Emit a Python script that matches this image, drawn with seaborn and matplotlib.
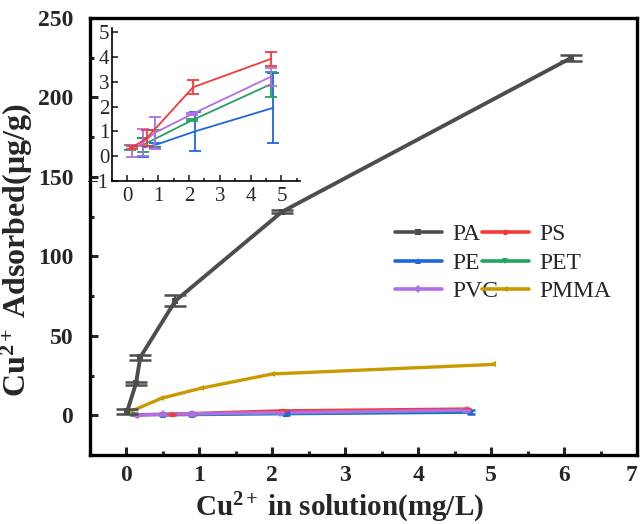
import numpy as np
import pandas as pd
import matplotlib
matplotlib.use("Agg")
import matplotlib.pyplot as plt
from matplotlib.ticker import MultipleLocator
from matplotlib.lines import Line2D
import seaborn as sns

# ---------------- data ----------------
series_names = ["PA", "PS", "PE", "PET", "PVC", "PMMA"]

pa_x = [0.01, 0.13, 0.19, 0.67, 2.13, 6.1]
pa_y = [2.5, 20.0, 36.5, 72.0, 128.0, 225.0]
pa_err = [1.5, 1.0, 1.5, 3.5, 1.0, 2.0]

ps_x = [0.15, 0.62, 2.13, 4.67]
ps_y = [0.35, 0.72, 2.78, 3.93]
ps_err = [0.05, 0.32, 0.28, 0.29]

pe_x = [0.5, 0.9, 2.19, 4.73]
pe_y = [0.35, 0.45, 1.0, 1.95]
pe_err = [0.4, 0.08, 0.8, 1.4]

pet_x = [0.1, 0.5, 0.9, 2.1, 4.65]
pet_y = [0.35, 0.45, 0.7, 1.45, 2.9]
pet_err = [0.1, 0.3, 0.35, 0.05, 0.5]

pvc_x = [0.15, 0.5, 0.9, 2.1, 4.65]
pvc_y = [0.2, 0.55, 0.95, 1.7, 3.2]
pvc_err = [0.25, 0.55, 0.65, 0.05, 0.35]

pmma_x = [0.0, 0.48, 1.02, 2.0, 5.03]
pmma_y = [1.3, 10.7, 17.0, 26.0, 32.0]

xs = {"PA": pa_x, "PS": ps_x, "PE": pe_x, "PET": pet_x, "PVC": pvc_x, "PMMA": pmma_x}
ys = {"PA": pa_y, "PS": ps_y, "PE": pe_y, "PET": pet_y, "PVC": pvc_y, "PMMA": pmma_y}
errs = {"PA": pa_err, "PS": ps_err, "PE": pe_err, "PET": pet_err, "PVC": pvc_err, "PMMA": None}

colors = {"PA": "#4d4d4d", "PS": "#f23a3a", "PE": "#1f66dd", "PET": "#23a35f",
          "PVC": "#b06ee8", "PMMA": "#c99a00"}
markers = {"PA": "s", "PS": "o", "PE": "^", "PET": "v", "PVC": "D", "PMMA": "<"}

x_ticks_main = [0, 1, 2, 3, 4, 5, 6, 7]
y_ticks_main = [0, 50, 100, 150, 200, 250]
x_ticks_inset = [0, 1, 2, 3, 4, 5]
y_ticks_inset = [-1, 0, 1, 2, 3, 4, 5]

# ---------------- style ----------------
sns.set_style("ticks")
plt.rcParams["font.family"] = ["Liberation Serif", "DejaVu Serif"]
plt.rcParams["mathtext.fontset"] = "custom"
plt.rcParams["mathtext.rm"] = "Liberation Serif:bold"
plt.rcParams["mathtext.bf"] = "Liberation Serif:bold"
plt.rcParams["mathtext.it"] = "Liberation Serif:bold:italic"

frames = []
for n in series_names:
    frames.append(pd.DataFrame({"x": xs[n], "y": ys[n], "series": n}))
df = pd.concat(frames, ignore_index=True)

fig = plt.figure(figsize=(6.41, 5.24), dpi=100)
ax = fig.add_axes([0.1404, 0.1317, 0.8534, 0.8339])

lw_main = {"PA": 2.8, "PS": 2.4, "PE": 2.4, "PET": 2.4, "PVC": 2.4, "PMMA": 2.4}
order_draw = ["PMMA", "PE", "PET", "PS", "PVC", "PA"]
for n in order_draw:
    sub = df[df["series"] == n]
    sns.lineplot(data=sub, x="x", y="y", ax=ax, color=colors[n], lw=lw_main[n],
                 marker=markers[n], markersize=4, markeredgewidth=0,
                 estimator=None, sort=False, legend=False)
    if errs[n] is not None:
        ax.errorbar(xs[n], ys[n], yerr=errs[n], fmt="none", ecolor=colors[n],
                    elinewidth=1.6, capsize=8 if n == "PA" else 3, capthick=1.8, zorder=3)

ax.set_xlim(-0.5, 7)
ax.set_ylim(-25, 250)
ax.set_xticks(x_ticks_main)
ax.set_yticks(y_ticks_main)
ax.xaxis.set_minor_locator(MultipleLocator(0.5))
ax.yaxis.set_minor_locator(MultipleLocator(25))
ax.tick_params(which="major", direction="in", length=6, width=2.2, labelsize=17)
ax.tick_params(which="minor", direction="in", length=3, width=2.2)
ax.tick_params(axis="x", pad=7)
ax.tick_params(axis="y", pad=12)
for lab in ax.get_xticklabels() + ax.get_yticklabels():
    lab.set_fontweight("bold")
ax.get_xticklabels()[-1].set_horizontalalignment("right")
for s in ax.spines.values():
    s.set_linewidth(2.4)
    s.set_color("black")
ax.set_xlabel("Cu$^{2+}$\u2009in solution(mg/L)", fontsize=21, fontweight="bold")
ax.set_ylabel("Cu$^{2+}$\u2009Adsorbed(μg/g)", fontsize=23, fontweight="bold")
ax.xaxis.set_label_coords(0.457, -0.083)
ax.yaxis.set_label_coords(-0.1, 0.469)

# legend
leg_order = ["PA", "PE", "PVC", "PS", "PET", "PMMA"]
handles = [Line2D([], [], color=colors[n], lw=2.6, marker=markers[n], markersize=4,
                  markeredgewidth=0) for n in leg_order]
ax.legend(handles, leg_order, ncol=2, frameon=False, loc="upper left",
          bbox_to_anchor=(0.518, 0.578), fontsize=17, handlelength=2.0,
          handletextpad=0.45, columnspacing=-0.7, labelspacing=0.3)

# ---------------- inset ----------------
axi = fig.add_axes([0.1747, 0.6546, 0.2933, 0.292])
for n in ["PE", "PET", "PVC", "PS"]:
    sub = df[df["series"] == n]
    sns.lineplot(data=sub, x="x", y="y", ax=axi, color=colors[n], lw=1.3,
                 estimator=None, sort=False, legend=False)
    axi.errorbar(xs[n], ys[n], yerr=errs[n], fmt="none", ecolor=colors[n],
                 elinewidth=1.3, capsize=4.5, capthick=1.3)
axi.set_xlim(-0.5, 5.6)
axi.set_ylim(-1, 5.17)
axi.set_xticks(x_ticks_inset)
axi.set_yticks(y_ticks_inset)
axi.xaxis.set_minor_locator(MultipleLocator(0.5))
axi.tick_params(which="major", direction="in", length=4, width=1.2, labelsize=15, pad=4)
axi.tick_params(which="minor", direction="in", length=2, width=1.2)
axi.tick_params(axis="y", pad=2)
axi.set_xlabel("")
axi.set_ylabel("")
axi.patch.set_alpha(0)
axi.spines["top"].set_visible(False)
axi.spines["right"].set_visible(False)
for s in ["left", "bottom"]:
    axi.spines[s].set_linewidth(1.2)
    axi.spines[s].set_color("black")

fig.savefig("out.png", dpi=100)
